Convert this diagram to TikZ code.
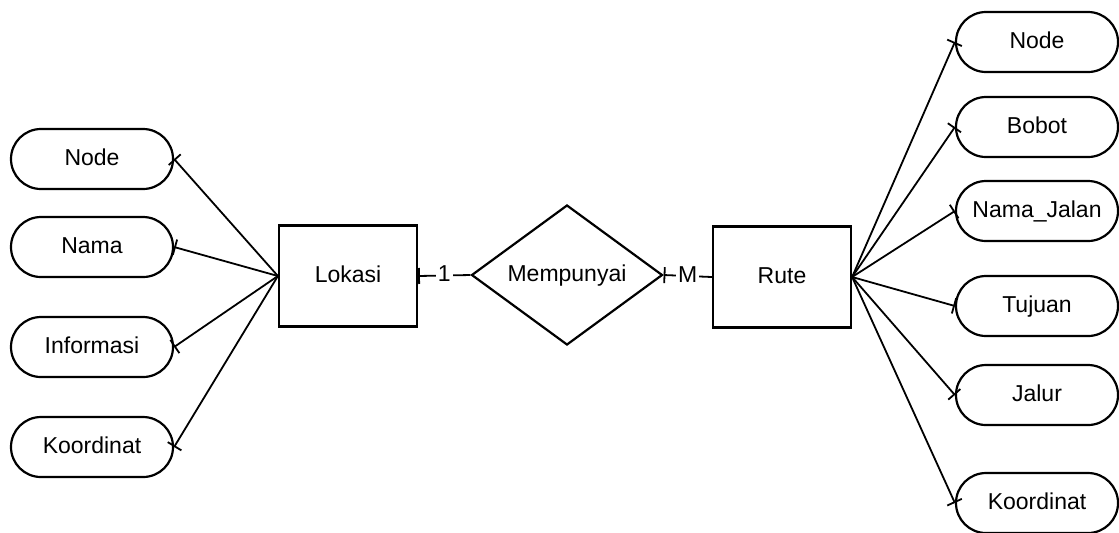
\documentclass[tikz,border=0pt]{standalone}
\usepackage{fontspec}
\setmainfont{Liberation Sans}
\usetikzlibrary{shapes.geometric,shapes.misc,arrows.meta}
\begin{document}
\begin{tikzpicture}[x=0.5pt,y=-0.5pt,
  every node/.style={font=\fontsize{11.5}{13}\selectfont,text height=8.3pt,text depth=2.3pt},
  attr/.style={draw,rounded rectangle,line width=1.1pt,minimum width=81pt,minimum height=30pt,inner sep=0pt},
  entity/.style={draw,rectangle,line width=1.1pt,minimum width=69pt,minimum height=50.5pt,inner sep=0pt},
  rel/.style={draw,diamond,line width=1.1pt,minimum width=95.5pt,minimum height=70pt,inner sep=0pt,aspect=1.36},
  link/.style={line width=0.9pt,-{Bar[width=8pt,line width=0.9pt]}},
  card/.style={fill=white,inner sep=1pt}]
\useasboundingbox (0,0) rectangle (1119,532);
% left attributes
\node[attr] (lnode) at (92,159) {Node};
\node[attr] (lnama) at (92,247) {Nama};
\node[attr] (linfo) at (92,347) {Informasi};
\node[attr] (lkoord) at (92,447) {Koordinat};
% entities and relationship
\node[entity] (lokasi) at (348,276) {Lokasi};
\node[rel] (mp) at (567,275) {Mempunyai};
\node[entity] (rute) at (782,277) {Rute};
% right attributes
\node[attr] (rnode) at (1037,42) {Node};
\node[attr] (rbobot) at (1037,127) {Bobot};
\node[attr] (rjalan) at (1037,211) {Nama\_Jalan};
\node[attr] (rtujuan) at (1037,306) {Tujuan};
\node[attr] (rjalur) at (1037,395) {Jalur};
\node[attr] (rkoord) at (1037,503) {Koordinat};
% connectors
\foreach \a in {lnode,lnama,linfo,lkoord}
  \draw[link] (lokasi.west) -- (\a.east);
\foreach \a in {rnode,rbobot,rjalan,rtujuan,rjalur,rkoord}
  \draw[link] (rute.east) -- (\a.west);
\draw[link] (mp.west) -- node[card] {1} (lokasi.east);
\draw[link] (rute.west) -- node[card] {M} (mp.east);
\end{tikzpicture}
\end{document}
